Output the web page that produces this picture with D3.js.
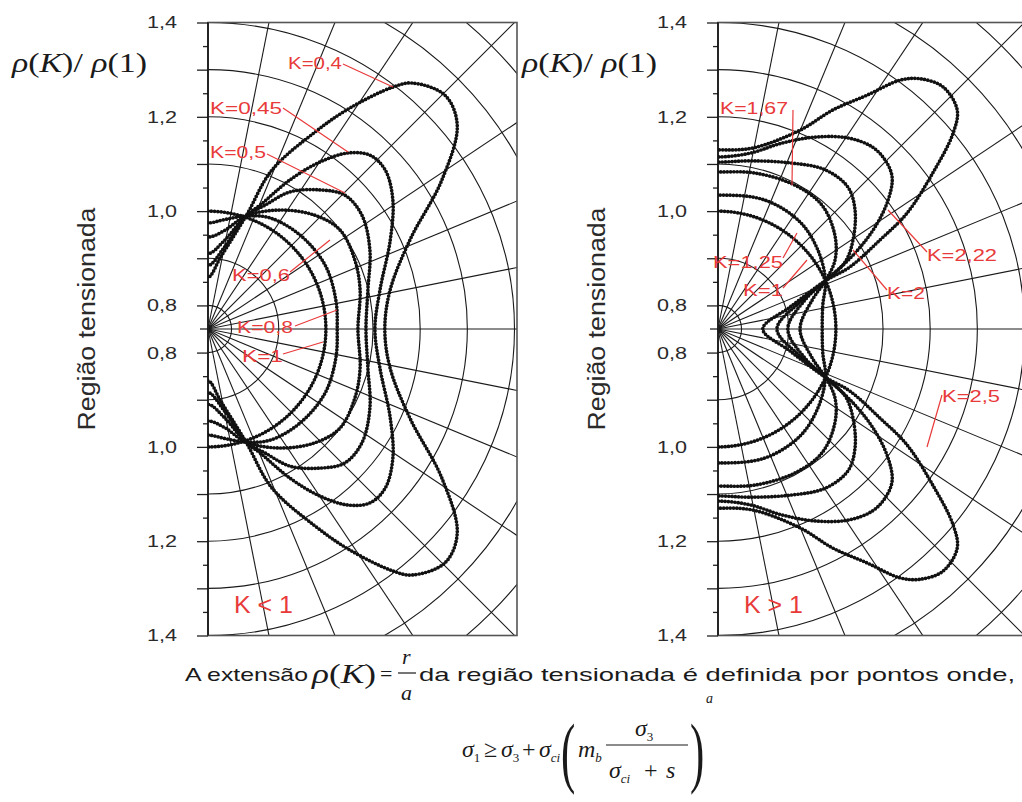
<!DOCTYPE html>
<html><head><meta charset="utf-8">
<script src="https://cdn.jsdelivr.net/npm/d3@7"></script>
<style>body{margin:0;background:#fff} svg{display:block}</style>
</head><body>
<svg id="chart" width="1022" height="802"></svg>
<script>
// ---- data: ρ(K)/ρ(1) against polar angle θ (degrees above the horizontal); lower half mirrors the upper
const gridRho = [0.8, 0.9, 1.0, 1.1, 1.2, 1.3, 1.4, 1.5, 1.6];
const tickLabels = [0.8, 1.0, 1.2, 1.4];
const majorTicks = [0.8, 0.9, 1.0, 1.1, 1.2, 1.3, 1.4];
const minorTicks = [0.85, 0.95, 1.05, 1.15, 1.25, 1.35];

// K < 1
const k100Theta = [0, 11.25, 22.5, 33.75, 45, 56.25, 67.5, 78.75, 90];
const k100Rho   = [1, 1, 1, 1, 1, 1, 1, 1, 1];
const k080Theta = [0, 12.8, 28.7, 45.6, 60.8, 71.4, 81.2, 90];
const k080Rho   = [1.024, 1.028, 1.033, 1.029, 1.02, 1.003, 0.985, 0.975];
const k060Theta = [0, 14.4, 25.1, 36.9, 46.8, 58.8, 71.4, 80.4, 90];
const k060Rho   = [1.068, 1.083, 1.094, 1.1, 1.081, 1.045, 1.003, 0.962, 0.945];
const k050Theta = [0, 13.7, 26, 36.5, 44.4, 51.1, 59.1, 65.3, 71.4, 79.7, 90];
const k050Rho   = [1.085, 1.099, 1.132, 1.156, 1.156, 1.129, 1.089, 1.039, 1.003, 0.94, 0.91];
const k045Theta = [0, 12.8, 26, 34.9, 41.9, 47, 51.5, 56.2, 61.2, 67.2, 71.4, 79, 90];
const k045Rho   = [1.104, 1.124, 1.18, 1.228, 1.255, 1.254, 1.227, 1.176, 1.111, 1.035, 1.003, 0.925, 0.885];
const k040Theta = [0, 12.1, 23.8, 32.5, 39.3, 44.6, 50.3, 52.6, 57.3, 61.5, 68.1, 71.4, 80, 90];
const k040Rho   = [1.125, 1.145, 1.218, 1.338, 1.433, 1.456, 1.428, 1.396, 1.307, 1.225, 1.113, 1.003, 0.905, 0.86];

// K > 1
const k125Theta = [0, 12.9, 24.2, 38.3, 52.5, 70, 90];
const k125Rho   = [0.971, 0.978, 1.0, 1.02, 1.036, 1.041, 1.034];
const k167Theta = [0, 17.1, 24.2, 30.5, 38.8, 50, 61.9, 76.7, 90];
const k167Rho   = [0.924, 0.959, 1.0, 1.038, 1.068, 1.093, 1.096, 1.09, 1.083];
const k200Theta = [0, 18.4, 24.2, 27.8, 33.4, 41, 47.5, 56.1, 66.6, 79.2, 90];
const k200Rho   = [0.898, 0.944, 1.0, 1.055, 1.093, 1.135, 1.158, 1.157, 1.134, 1.113, 1.104];
const k222Theta = [0, 18.2, 24.2, 29, 33, 37.2, 41.1, 45.3, 49.8, 55.8, 63.2, 71, 79.7, 90];
const k222Rho   = [0.875, 0.933, 1.0, 1.082, 1.147, 1.203, 1.24, 1.254, 1.256, 1.24, 1.206, 1.167, 1.129, 1.115];
const k250Theta = [0, 17, 24.2, 25.2, 28.8, 31.5, 36, 39.8, 42.5, 47.1, 51.1, 53.8, 57.5, 62.3, 67.6, 79.1, 90];
const k250Rho   = [0.845, 0.91, 1.0, 1.059, 1.142, 1.22, 1.313, 1.399, 1.438, 1.451, 1.432, 1.404, 1.338, 1.275, 1.206, 1.141, 1.13];

const leftCurves  = [[k100Theta, k100Rho], [k080Theta, k080Rho], [k060Theta, k060Rho],
                     [k050Theta, k050Rho], [k045Theta, k045Rho], [k040Theta, k040Rho]];
const rightCurves = [[k100Theta, k100Rho], [k125Theta, k125Rho], [k167Theta, k167Rho],
                     [k200Theta, k200Rho], [k222Theta, k222Rho], [k250Theta, k250Rho]];

// curve labels: text, left x, centre y, width, leader from -> to (pixel offsets from the panel origin)
const leftNotes = [
  ["K=0,4",  80, -266, 54, [135, -265], [185, -242]],
  ["K=0,45",  2, -221, 72, [75, -221], [140, -177]],
  ["K=0,5",   2, -177, 56, [59, -175], [137, -136]],
  ["K=0,6",  24,  -54, 58, [82, -57], [122, -89]],
  ["K=0,8",  29,   -2, 56, [87, -3], [129, -19]],
  ["K=1",    34,   27, 41, [75, 25], [115, 13]]
];
const rightNotes = [
  ["K=1,67",  2, -221, 68, [75, -219], [74, -144]],
  ["K=1,25", -5,  -67, 70, [65, -71], [79, -96]],
  ["K=1",    25,  -39, 40, [65, -41], [89, -69]],
  ["K=2,22", 209, -74, 70, [209, -77], [170, -119]],
  ["K=2",    169, -36, 38, [169, -39], [135, -79]],
  ["K=2,5",  224,  67, 58, [224, 66], [209, 118]]
];

// ---- layout
const svg = d3.select("#chart");
const cy = 329;
const rhoMin = 0.75, rhoMax = 1.4;
const radius = d3.scaleLinear().domain([rhoMin, rhoMax]).range([0, 306.5]);
const rMax = radius(rhoMax);
const panelW = 309;
const RED = "#e83a3a";
const INK = "#111";
const sans = "'Liberation Sans', Arial, sans-serif";
const serif = "'Liberation Serif', 'Times New Roman', serif";

const toXY = (x0, th, p, sign) => {
  const a = th * Math.PI / 180, r = radius(p);
  return [x0 + r * Math.cos(a), cy - sign * r * Math.sin(a)];
};

function curvePoints(x0, theta, rho) {
  const n = theta.length;
  const top = [], bottom = [];
  for (let i = n - 1; i >= 0; i--) top.push(toXY(x0, theta[i], rho[i], 1));
  for (let i = 1; i < n; i++) bottom.push(toXY(x0, theta[i], rho[i], -1));
  // mirrored neighbour beyond the vertical axis keeps the ends perpendicular to it
  const before = toXY(x0, 180 - theta[n - 2], rho[n - 2], 1);
  const after = toXY(x0, 180 - theta[n - 2], rho[n - 2], -1);
  return [before, ...top, ...bottom, after];
}

const line = d3.line().curve(d3.curveCatmullRom.alpha(0.5));

function drawPanel(x0, curves, notes, regionText, idx) {
  const g = svg.append("g");
  const clipId = "clip" + idx;
  svg.append("clipPath").attr("id", clipId).append("rect")
    .attr("x", x0).attr("y", cy - rMax).attr("width", panelW).attr("height", 2 * rMax);

  // polar grid
  const grid = g.append("g").attr("clip-path", `url(#${clipId})`)
    .attr("fill", "none").attr("stroke", "#1a1a1a").attr("stroke-width", 1.1);
  grid.selectAll("circle").data(gridRho).join("circle")
    .attr("cx", x0).attr("cy", cy).attr("r", d => radius(d));
  const spokes = d3.range(-7, 8).map(i => i * 11.25);
  grid.selectAll("line").data(spokes).join("line")
    .attr("x1", x0).attr("y1", cy)
    .attr("x2", d => x0 + 700 * Math.cos(d * Math.PI / 180))
    .attr("y2", d => cy - 700 * Math.sin(d * Math.PI / 180));

  // frame
  g.append("rect").attr("x", x0).attr("y", cy - rMax).attr("width", panelW).attr("height", 2 * rMax)
    .attr("fill", "none").attr("stroke", "#555").attr("stroke-width", 1.6);

  // radial axis, drawn upward and downward from the pole
  const fmt = d => d3.format(".1f")(d).replace(".", ",");
  const yUp = d3.scaleLinear().domain([rhoMin, rhoMax]).range([cy, cy - rMax]);
  const yDown = d3.scaleLinear().domain([rhoMin, rhoMax]).range([cy, cy + rMax]);
  [yUp, yDown].forEach(sc => {
    const ax = g.append("g").attr("transform", `translate(${x0},0)`)
      .call(d3.axisLeft(sc).tickValues(majorTicks).tickSize(11).tickPadding(20)
        .tickFormat(d => tickLabels.some(t => Math.abs(t - d) < 1e-6) ? fmt(d) : ""));
    ax.select(".domain").remove();
    ax.selectAll("line").attr("stroke", "#222").attr("stroke-width", 1.3);
    ax.selectAll("text").attr("font-family", sans).attr("font-size", 17).attr("fill", "#2a2a2a")
      .attr("textLength", 30).attr("lengthAdjust", "spacingAndGlyphs");
    const mn = g.append("g").attr("transform", `translate(${x0},0)`)
      .call(d3.axisLeft(sc).tickValues(minorTicks).tickSize(5).tickFormat(""));
    mn.select(".domain").remove();
    mn.selectAll("line").attr("stroke", "#222").attr("stroke-width", 1.3);
  });
  g.append("line").attr("x1", x0 - 8).attr("x2", x0).attr("y1", cy).attr("y2", cy)
    .attr("stroke", "#222").attr("stroke-width", 1.3);
  g.append("line").attr("x1", x0).attr("x2", x0).attr("y1", cy - rMax).attr("y2", cy + rMax)
    .attr("stroke", INK).attr("stroke-width", 1.6);

  // dotted curves
  g.append("g").attr("clip-path", `url(#${clipId})`)
    .selectAll("path").data(curves).join("path")
    .attr("d", d => line(curvePoints(x0, d[0], d[1])))
    .attr("fill", "none").attr("stroke", INK).attr("stroke-width", 3.7)
    .attr("stroke-linecap", "round").attr("stroke-dasharray", "0 3.3");

  // labels with leaders
  const nt = g.append("g");
  notes.forEach(([t, lx, ly, w, from, to]) => {
    nt.append("line").attr("x1", x0 + from[0]).attr("y1", cy + from[1])
      .attr("x2", x0 + to[0]).attr("y2", cy + to[1])
      .attr("stroke", RED).attr("stroke-width", 1.2);
    nt.append("text").attr("x", x0 + lx).attr("y", cy + ly).attr("dy", "0.36em")
      .attr("font-family", sans).attr("font-size", 16.5).attr("fill", RED)
      .attr("textLength", w).attr("lengthAdjust", "spacingAndGlyphs").text(t);
  });
  g.append("text").attr("x", x0 + 26).attr("y", cy + 284).attr("font-family", sans)
    .attr("font-size", 24).attr("fill", RED).attr("textLength", 59)
    .attr("lengthAdjust", "spacingAndGlyphs").text(regionText);

  // axis titles
  g.append("text").attr("transform", `translate(${x0 - 121},${cy - 10}) rotate(-90)`)
    .attr("text-anchor", "middle").attr("dy", "0.36em")
    .attr("font-family", sans).attr("font-size", 23).attr("fill", "#2a2a2a")
    .attr("textLength", 223).attr("lengthAdjust", "spacingAndGlyphs").text("Região tensionada");
  const rt = g.append("text").attr("x", x0 - 196).attr("y", 72)
    .attr("font-family", serif).attr("font-size", 27).attr("fill", "#1a1a1a")
    .attr("textLength", 135).attr("lengthAdjust", "spacingAndGlyphs");
  rt.append("tspan").attr("font-style", "italic").text("ρ");
  rt.append("tspan").text("(");
  rt.append("tspan").attr("font-style", "italic").text("K");
  rt.append("tspan").text(")/ ");
  rt.append("tspan").attr("font-style", "italic").text("ρ");
  rt.append("tspan").text("(1)");
}

drawPanel(208, leftCurves, leftNotes, "K < 1", 0);
drawPanel(718, rightCurves, rightNotes, "K > 1", 1);

// ---- caption and criterion
const cap = svg.append("g").attr("fill", "#1a1a1a");
cap.append("text").attr("x", 185).attr("y", 681).attr("font-family", sans).attr("font-size", 19)
  .attr("textLength", 123).attr("lengthAdjust", "spacingAndGlyphs").text("A extensão");
const rk = cap.append("text").attr("x", 312).attr("y", 683).attr("font-family", serif).attr("font-size", 28)
  .attr("textLength", 64).attr("lengthAdjust", "spacingAndGlyphs");
rk.append("tspan").attr("font-style", "italic").text("ρ");
rk.append("tspan").text("(");
rk.append("tspan").attr("font-style", "italic").text("K");
rk.append("tspan").text(")");
cap.append("text").attr("x", 380).attr("y", 681).attr("font-family", serif).attr("font-size", 22).text("=");
cap.append("text").attr("x", 402).attr("y", 664).attr("font-family", serif).attr("font-style", "italic")
  .attr("font-size", 22).text("r");
cap.append("line").attr("x1", 398).attr("x2", 416).attr("y1", 673).attr("y2", 673)
  .attr("stroke", "#1a1a1a").attr("stroke-width", 1.2);
cap.append("text").attr("x", 401).attr("y", 700).attr("font-family", serif).attr("font-style", "italic")
  .attr("font-size", 22).text("a");
cap.append("text").attr("x", 419).attr("y", 681).attr("font-family", sans).attr("font-size", 19)
  .attr("textLength", 596).attr("lengthAdjust", "spacingAndGlyphs")
  .text("da região tensionada é definida por pontos onde,");

const f = cap.append("g").attr("font-family", serif).attr("font-size", 24);
function sig(x, y, sub) {
  const t = f.append("text").attr("x", x).attr("y", y);
  t.append("tspan").attr("font-style", "italic").text("σ");
  t.append("tspan").attr("font-size", 13).attr("dy", 5).attr("font-style", sub === "ci" ? "italic" : "normal").text(sub);
}
sig(462, 757, "1");
f.append("text").attr("x", 484).attr("y", 757).text("≥");
sig(501, 757, "3");
f.append("text").attr("x", 522).attr("y", 757).text("+");
sig(539, 757, "ci");
f.append("text").attr("transform", "translate(561,778) scale(0.55,1)").attr("font-size", 78).attr("font-weight", 300).text("(");
const mb = f.append("text").attr("x", 578).attr("y", 757);
mb.append("tspan").attr("font-style", "italic").text("m");
mb.append("tspan").attr("font-size", 13).attr("dy", 5).attr("font-style", "italic").text("b");
sig(635, 736, "3");
f.append("line").attr("x1", 606).attr("x2", 688).attr("y1", 745).attr("y2", 745)
  .attr("stroke", "#1a1a1a").attr("stroke-width", 1.2);
sig(609, 778, "ci");
f.append("text").attr("x", 644).attr("y", 778).text("+");
f.append("text").attr("x", 666).attr("y", 778).attr("font-style", "italic").text("s");
f.append("text").attr("transform", "translate(690,778) scale(0.55,1)").attr("font-size", 78).attr("font-weight", 300).text(")");
f.append("text").attr("x", 706).attr("y", 703).attr("font-size", 14).attr("font-style", "italic").text("a");
</script>
</body></html>
